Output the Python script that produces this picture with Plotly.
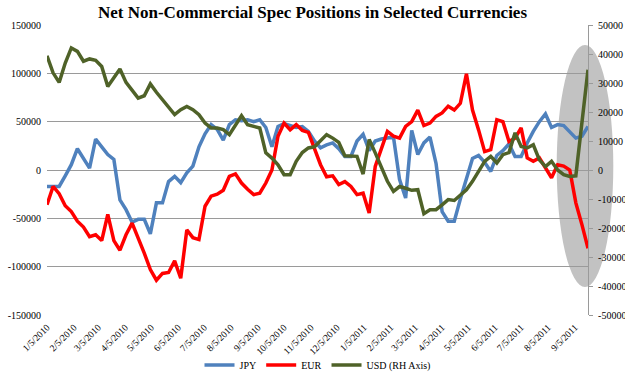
import pandas as pd
import plotly.graph_objects as go

# Weekly COT report dates (Tuesdays), 1/5/2010 .. 9/20/2011
dates = pd.date_range("2010-01-05", periods=90, freq="7D")

jpy = [-17000, -17000, -17000, -6000, 5500, 22000, 12000, 2000, 32000, 24000,
       16000, 11000, -31000, -41000, -54000, -51000, -51000, -66000, -34000, -34000,
       -12000, -6600, -13000, -3000, 4000, 24000, 37500, 47000, 42000, 31000,
       47000, 52000, 51000, 52000, 50000, 52000, 44000, 24000, 45000, 48000,
       46000, 44000, 45000, 40000, 30000, 23000, 26000, 28000, 22000, 14000,
       14000, 30000, 37000, 20000, 30000, 32000, 33000, 34000, -10000, -29000,
       41000, 16000, 28000, 34000, 7000, -43000, -53000, -53000, -30000, -8000,
       12000, 15000, 8000, -1500, 15000, 20000, 27000, 14000, 14000, 28000,
       40000, 50000, 58000, 44000, 47000, 46000, 40000, 33000, 35000, 45000]

eur = [-36000, -17000, -24500, -37000, -43000, -53000, -59000, -69000, -67000, -73000,
       -46000, -73000, -83000, -67000, -55000, -70000, -86000, -103000, -114000, -107000,
       -106000, -94000, -112000, -62000, -70000, -72000, -37500, -27000, -25000, -21000,
       -6600, -4000, -13500, -20000, -25500, -24000, -13500, 0, 35000, 48500,
       41500, 47000, 41000, 39000, 22000, 5500, -7000, -6000, -15000, -12000,
       -17000, -25500, -24000, -44500, 3700, 21000, 40000, 35000, 33000, 45000,
       50000, 62000, 46000, 48500, 55500, 59000, 66000, 62000, 69000, 99500,
       62000, 41500, 19000, 21000, 52000, 50000, 29500, 33000, 43500, 12500,
       9000, 12500, 2000, -8000, 5500, 4000, 0, -34000, -56500, -81000]

usd = [39400, 33500, 30200, 36900, 42100, 40900, 37500, 38300, 37800, 35700,
       28800, 31700, 34800, 30200, 27700, 24800, 25600, 29700, 26800, 24300,
       21400, 19100, 20800, 21900, 20800, 19100, 16200, 14500, 14500, 13900,
       12200, 15600, 18700, 15600, 15000, 14500, 5900, 4100, 1800, -1600,
       -1600, 3000, 6000, 7600, 8000, 10000, 12200, 11000, 9500, 4900,
       4700, 4700, -1400, 10500, 5900, 700, -3900, -7400, -5700, -6300,
       -7000, -6800, -15100, -13700, -13700, -12000, -10200, -10500, -8500, -6800,
       -3900, -500, 3000, 4700, 2400, 5300, 6000, 12800, 8100, 7600,
       8700, 3500, 1200, 3000, 0, -1600, -2200, -2000, 16000, 34600]

tick_dates = pd.date_range("2010-01-01", "2011-09-01", freq="MS") + pd.Timedelta(days=4)
tick_text = [f"{d.month}/{d.day}/{d.year}" for d in tick_dates]

left_ticks = [-150000, -100000, -50000, 0, 50000, 100000, 150000]
right_ticks = [-50000, -40000, -30000, -20000, -10000, 0, 10000, 20000, 30000, 40000, 50000]

FONT = "Liberation Serif"

fig = go.Figure()
fig.add_trace(go.Scatter(x=dates, y=jpy, name="JPY", mode="lines",
                         line=dict(color="#4F81BD", width=3.5)))
fig.add_trace(go.Scatter(x=dates, y=eur, name="EUR", mode="lines",
                         line=dict(color="#FF0000", width=3.5)))
fig.add_trace(go.Scatter(x=dates, y=usd, name="USD (RH Axis)", mode="lines", yaxis="y2",
                         line=dict(color="#4F6228", width=3.5)))

# highlight ellipse
fig.add_shape(type="circle", xref="paper", yref="paper",
              x0=(556.7 - 47) / 541, x1=(613.3 - 47) / 541,
              y0=(315 - 287) / 290, y1=(315 - 45) / 290,
              fillcolor="rgba(120,120,120,0.45)", line=dict(width=0), layer="between")

fig.update_layout(
    width=625, height=376,
    margin=dict(l=47, r=37, t=25, b=61, autoexpand=False),
    paper_bgcolor="white", plot_bgcolor="white",
    font=dict(family=FONT, size=10, color="black"),
    title=dict(text="<b>Net Non-Commercial Spec Positions in Selected Currencies</b>",
               x=0.5, xanchor="center", y=0.968, yanchor="middle",
               font=dict(family=FONT, size=17, color="black")),
    xaxis=dict(type="date", range=[dates[0], dates[-1]], automargin=False,
               tickvals=tick_dates, ticktext=tick_text, tickangle=-45,
               showgrid=False, zeroline=False, showline=False,
               ticks="", ticklabelstandoff=4, tickfont=dict(family=FONT, size=9.5)),
    yaxis=dict(range=[-150000, 150000], tickvals=left_ticks, automargin=False,
               ticktext=[str(v) for v in left_ticks],
               showgrid=True, gridcolor="#9a9a9a", gridwidth=1.2,
               zeroline=False, showline=False, ticks="", ticklabelstandoff=5,
               tickfont=dict(family=FONT, size=10)),
    yaxis2=dict(range=[-50000, 50000], tickvals=right_ticks, automargin=False,
                ticktext=[str(v) for v in right_ticks],
                overlaying="y", side="right", showgrid=False, zeroline=False,
                showline=True, linecolor="#9a9a9a", linewidth=1.2,
                ticks="outside", ticklen=4, tickcolor="#9a9a9a", ticklabelstandoff=3,
                tickfont=dict(family=FONT, size=10)),
    legend=dict(orientation="h", x=0.5, xanchor="center", y=-0.172, yanchor="middle",
                font=dict(family=FONT, size=10), itemwidth=30,
                bgcolor="rgba(0,0,0,0)"),
    showlegend=True,
)

fig.write_html("out.html")
